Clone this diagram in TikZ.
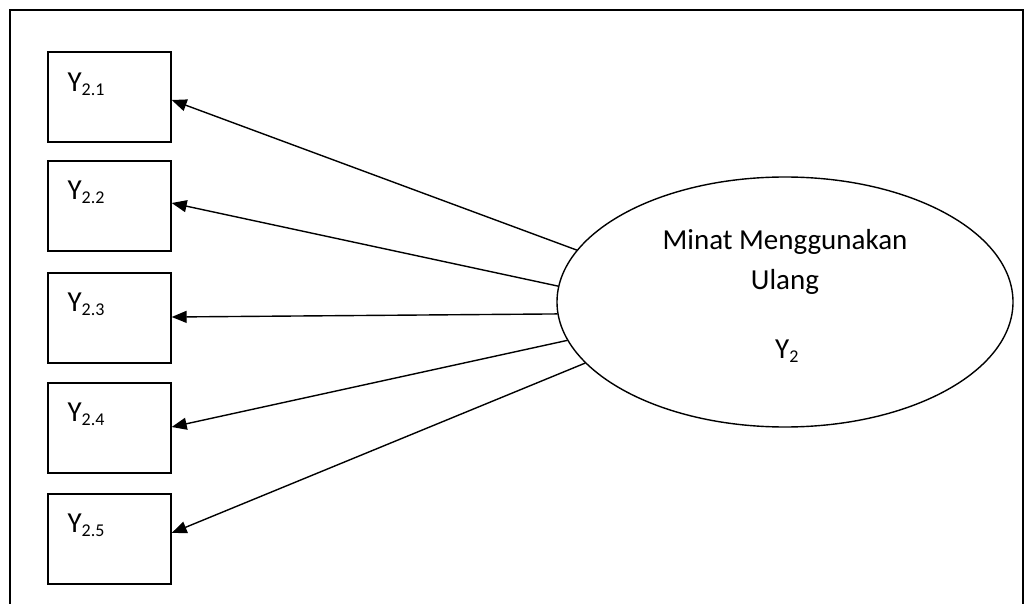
\documentclass[tikz,border=0pt]{standalone}
\usepackage{fontspec}
\setmainfont{Carlito}
\usetikzlibrary{arrows.meta,calc,shapes.geometric}
\newcommand\subtxt[1]{\raisebox{-4pt}{\fontsize{18}{18}\selectfont #1}}
\begin{document}
\begin{tikzpicture}[x=1pt,y=-1pt,
  indicator/.style={draw,line width=1.4pt,minimum width=123pt,minimum height=90pt,inner sep=0pt},
  latent/.style={draw,ellipse,line width=1.4pt,minimum width=456pt,minimum height=250pt,inner sep=0pt},
  lbl/.style={anchor=base west,inner sep=0pt,font=\fontsize{29}{35}\selectfont},
  txt/.style={anchor=base,inner sep=0pt,font=\fontsize{29}{35}\selectfont},
  link/.style={line width=1.4pt,-{Triangle[length=15pt,width=12pt]}}]
\useasboundingbox (0,0) rectangle (1026,604);
\clip (0,0) rectangle (1026,604);
% outer frame
\draw[line width=1.9pt] (10,612) -- (10,10) -- (1023,10) -- (1023,612);
% indicator boxes
\node[indicator] (b1) at (109.5,97) {};
\node[indicator] (b2) at (109.5,206) {};
\node[indicator] (b3) at (109.5,318) {};
\node[indicator] (b4) at (109.5,428) {};
\node[indicator] (b5) at (109.5,539) {};
\node[lbl] (t1) at ($(b1.north west)+(20,40)$) {Y\subtxt{2.1}};
\node[lbl] (t2) at ($(b2.north west)+(20,39)$) {Y\subtxt{2.2}};
\node[lbl] (t3) at ($(b3.north west)+(20,39)$) {Y\subtxt{2.3}};
\node[lbl] (t4) at ($(b4.north west)+(20,39)$) {Y\subtxt{2.4}};
\node[lbl] (t5) at ($(b5.north west)+(20,39)$) {Y\subtxt{2.5}};
% latent construct
\node[latent] (e) at (785,302) {};
\node[txt] (m1) at (785,250) {Minat Menggunakan};
\node[txt] (m2) at (785,290) {Ulang};
\node[lbl] (m3) at (775,358) {Y\subtxt{2}};
% loadings
\draw[link] (e.166) -- ($(b1.east)+(0,3)$);
\draw[link] (e.176) -- ($(b2.east)+(0,-3)$);
\draw[link] (e.183) -- ($(b3.east)+(0,-1)$);
\draw[link] (e.190) -- ($(b4.east)+(0,-1)$);
\draw[link] (e.197) -- ($(b5.east)+(0,-6)$);
\end{tikzpicture}
\end{document}
